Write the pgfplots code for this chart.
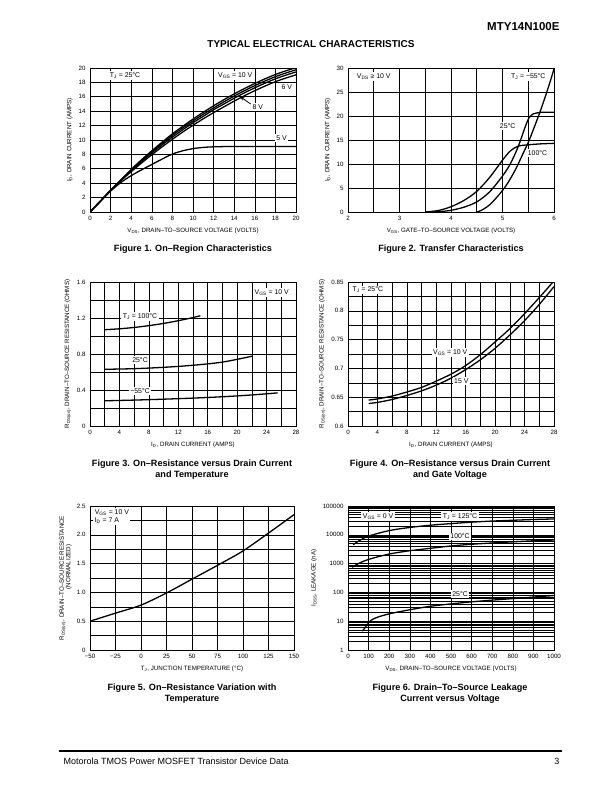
\documentclass[border=0pt]{standalone}
\usepackage{fontspec}
\setmainfont{Liberation Sans}
\usepackage{pgfplots}
\pgfplotsset{compat=1.18}
\newcommand{\tl}{\fontsize{6.2}{7}\selectfont}
\newcommand{\lb}{\fontsize{6.9}{8}\selectfont}
\newcommand{\al}{\fontsize{6.2}{7.4}\selectfont}
\newcommand{\figcap}{\fontsize{9.1}{11}\selectfont\bfseries}
\tikzset{lab/.style={fill=white, inner sep=1.5pt, font=\lb}}
\pgfplotsset{ds/.style={scale only axis, anchor=north west, width=206pt, height=144pt,
  grid=both, major grid style={black, line width=0.6pt}, minor grid style={black, line width=0.6pt},
  axis line style={line width=0.8pt}, tick style={draw=none},
  ticklabel style={font=\tl}, label style={font=\al},
  xticklabel style={yshift=-1pt}, yticklabel style={xshift=-1pt},
  /pgf/number format/assume math mode=true, /pgf/number format/1000 sep={},
  cycle list={{black, solid, mark=none}},
  every axis plot post/.append style={line width=1.3pt, smooth, tension=0.5},
  xlabel style={yshift=-0.5pt}, ylabel style={yshift=-1pt},
  clip=true}}
\begin{document}
\begin{tikzpicture}
\path[use as bounding box, fill=white] (0pt,0pt) rectangle (612pt,-792pt);
\node[anchor=east, font=\fontsize{11.5}{12}\selectfont\bfseries] at (563pt,-27pt) {MTY14N100E};
\node[font=\fontsize{10}{12}\selectfont\bfseries] at (311pt,-44pt) {TYPICAL ELECTRICAL CHARACTERISTICS};

% ---------- Figure 1
\begin{axis}[ds, at={(90pt,-68pt)}, xmin=0, xmax=20, ymin=0, ymax=20,
  xtick={0,2,...,20}, ytick={0,2,...,20},
  xlabel={V\textsubscript{DS}, DRAIN–TO–SOURCE VOLTAGE (VOLTS)},
  ylabel={I\textsubscript{D}, DRAIN CURRENT (AMPS)}]
\addplot coordinates {(0,0) (1,1.5) (2,3.0) (3,4.45) (4,5.9) (5,7.25) (6,8.5) (7,9.7) (8,10.85) (9,11.9) (10,12.9) (11,13.85) (12,14.75) (13,15.6) (14,16.4) (15,17.15) (16,17.85) (17,18.5) (18,19.1) (19,19.6) (20,20.05)};
\addplot coordinates {(0,0) (1,1.5) (2,3.0) (3,4.43) (4,5.85) (5,7.15) (6,8.35) (7,9.52) (8,10.65) (9,11.68) (10,12.65) (11,13.58) (12,14.45) (13,15.3) (14,16.1) (15,16.85) (16,17.55) (17,18.2) (18,18.8) (19,19.3) (20,19.75)};
\addplot coordinates {(0,0) (1,1.5) (2,3.0) (3,4.4) (4,5.75) (5,6.98) (6,8.2) (7,9.32) (8,10.4) (9,11.42) (10,12.4) (11,13.3) (12,14.2) (13,15.0) (14,15.8) (15,16.55) (16,17.25) (17,17.9) (18,18.5) (19,19.0) (20,19.45)};
\addplot coordinates {(0,0) (1,1.5) (2,3.0) (3,4.35) (4,5.6) (5,6.8) (6,7.95) (7,9.05) (8,10.1) (9,11.1) (10,12.05) (11,12.95) (12,13.8) (13,14.6) (14,15.4) (15,16.15) (16,16.85) (17,17.5) (18,18.1) (19,18.6) (20,19.05)};
\addplot coordinates {(0,0) (1,1.45) (2,2.9) (3,4.1) (4,5.05) (5,5.85) (6,6.6) (7,7.35) (8,8.05) (9,8.5) (10,8.8) (11,8.97) (12,9.05) (14,9.1) (20,9.1)};
\node[lab] at (axis cs:3.4,18.9) {T\textsubscript{J} = 25°C};
\node[lab] at (axis cs:14.1,19.0) {V\textsubscript{GS} = 10 V};
\node[lab] at (axis cs:19.1,17.4) {6 V};
\node[lab] at (axis cs:16.3,14.6) {8 V};
\draw[line width=0.8pt, -stealth] (axis cs:15.6,15.0) -- (axis cs:14.6,16.0);
\node[lab] at (axis cs:18.6,10.3) {5 V};
\end{axis}
\node[font=\figcap] at (193pt,-249pt) {Figure 1. On–Region Characteristics};

% ---------- Figure 2
\begin{axis}[ds, at={(348pt,-68pt)}, xmin=2, xmax=6, ymin=0, ymax=30,
  xtick={2,3,4,5,6}, minor xtick={2.5,3.5,4.5,5.5}, ytick={0,5,...,30},
  xlabel={V\textsubscript{GS}, GATE–TO–SOURCE VOLTAGE (VOLTS)},
  ylabel={I\textsubscript{D}, DRAIN CURRENT (AMPS)}]
\addplot coordinates {(4.5,0) (4.6,0.4) (4.75,1.5) (4.9,3.2) (5,4.5) (5.1,6) (5.25,8.8) (5.4,12.2) (5.5,14.5) (5.6,17.2) (5.75,21.5) (5.9,26.3) (6,29.8)};
\addplot coordinates {(3.6,0) (3.8,0.1) (4,0.35) (4.25,1) (4.5,2.1) (4.75,4.2) (5,7.5) (5.15,10) (5.3,13.5) (5.45,18) (5.52,19.7) (5.6,20.45) (5.75,20.75) (6,20.8)};
\addplot coordinates {(3.5,0) (3.75,0.3) (4,1.1) (4.25,2.4) (4.5,4.3) (4.75,7.2) (5,10.8) (5.15,12.7) (5.3,13.7) (5.5,14) (5.75,14.2) (6,14.3)};
\node[lab] at (axis cs:2.5,28.3) {V\textsubscript{DS} ≥ 10 V};
\node[lab] at (axis cs:5.5,28.3) {T\textsubscript{J} = −55°C};
\node[lab] at (axis cs:5.1,17.9) {25°C};
\node[lab] at (axis cs:5.68,12.3) {100°C};
\end{axis}
\node[font=\figcap] at (451pt,-249pt) {Figure 2. Transfer Characteristics};

% ---------- Figure 3
\begin{axis}[ds, at={(90pt,-282pt)}, xmin=0, xmax=28, ymin=0, ymax=1.6,
  xtick={0,4,...,28}, minor xtick={2,6,...,26},
  ytick={0,0.4,0.8,1.2,1.6}, yticklabels={0,0.4,0.8,1.2,1.6}, minor ytick={0.2,0.6,1.0,1.4},
  xlabel={I\textsubscript{D}, DRAIN CURRENT (AMPS)},
  ylabel={R\textsubscript{DS(on)}, DRAIN–TO–SOURCE RESISTANCE (OHMS)}]
\addplot coordinates {(2,1.07) (4,1.08) (6,1.095) (8,1.115) (10,1.14) (12,1.17) (14,1.205) (15,1.225)};
\addplot coordinates {(2,0.63) (6,0.637) (10,0.652) (14,0.675) (18,0.71) (22,0.775)};
\addplot coordinates {(2,0.28) (6,0.288) (10,0.298) (14,0.31) (18,0.325) (22,0.345) (25.5,0.368)};
\node[lab] at (axis cs:24.7,1.48) {V\textsubscript{GS} = 10 V};
\node[lab] at (axis cs:6.8,1.22) {T\textsubscript{J} = 100°C};
\node[lab] at (axis cs:6.8,0.73) {25°C};
\node[lab] at (axis cs:6.8,0.39) {−55°C};
\end{axis}
\node[font=\figcap, align=center] at (192pt,-470pt) {Figure 3. On–Resistance versus Drain Current\\and Temperature};

% ---------- Figure 4
\begin{axis}[ds, at={(348pt,-282pt)}, xmin=0, xmax=28, ymin=0.6, ymax=0.85,
  xtick={0,4,...,28}, minor xtick={2,6,...,26},
  ytick={0.6,0.65,0.7,0.75,0.8,0.85}, yticklabels={0.6,0.65,0.7,0.75,0.8,0.85},
  minor ytick={0.625,0.675,0.725,0.775,0.825},
  xlabel={I\textsubscript{D}, DRAIN CURRENT (AMPS)},
  ylabel={R\textsubscript{DS(on)}, DRAIN–TO–SOURCE RESISTANCE (OHMS)}]
\addplot coordinates {(2.8,0.645) (4,0.647) (6,0.652) (8,0.659) (10,0.667) (12,0.678) (14,0.69) (16,0.705) (18,0.724) (20,0.746) (22,0.769) (24,0.795) (26,0.823) (28,0.852)};
\addplot coordinates {(2.8,0.639) (4,0.641) (6,0.646) (8,0.653) (10,0.661) (12,0.671) (14,0.683) (16,0.698) (18,0.715) (20,0.735) (22,0.758) (24,0.783) (26,0.811) (28,0.842)};
\node[lab] at (axis cs:2.7,0.836) {T\textsubscript{J} = 25°C};
\node[lab] at (axis cs:13.9,0.727) {V\textsubscript{GS} = 10 V};
\node[lab] at (axis cs:15.4,0.678) {15 V};
\end{axis}
\node[font=\figcap, align=center] at (450pt,-470pt) {Figure 4. On–Resistance versus Drain Current\\and Gate Voltage};

% ---------- Figure 5
\begin{axis}[ds, at={(90pt,-506pt)}, width=204pt, xmin=-50, xmax=150, ymin=0, ymax=2.5,
  xtick={-50,-25,...,150}, xticklabels={−50,−25,0,25,50,75,100,125,150},
  ytick={0,0.5,1,1.5,2,2.5}, yticklabels={0,0.5,1.0,1.5,2.0,2.5},
  minor ytick={0.25,0.75,1.25,1.75,2.25},
  xlabel={T\textsubscript{J}, JUNCTION TEMPERATURE (°C)},
  ylabel={R\textsubscript{DS(on)}, \begin{tabular}[t]{@{}c@{}}DRAIN–TO–SOURCE RESISTANCE\\[-1pt](NORMALIZED)\end{tabular}},
  ylabel style={yshift=-1.5pt}]
\addplot coordinates {(-50,0.5) (-25,0.64) (0,0.78) (25,0.99) (50,1.23) (75,1.47) (100,1.72) (125,2.03) (150,2.35)};
\node[lab, anchor=north west, align=left] at (axis cs:-47,2.47) {V\textsubscript{GS} = 10 V\\I\textsubscript{D} = 7 A};
\end{axis}
\node[font=\figcap, align=center] at (192pt,-694pt) {Figure 5. On–Resistance Variation with\\Temperature};

% ---------- Figure 6
\begin{axis}[ds, at={(348pt,-506pt)}, ymode=log, xmin=0, xmax=1000, ymin=1, ymax=100000,
  xtick={0,100,...,1000}, xticklabels={0,100,200,300,400,500,600,700,800,900,1000},
  ytick={1,10,100,1000,10000,100000}, yticklabels={1,10,100,1000,10000,100000},
  xlabel={V\textsubscript{DS}, DRAIN–TO–SOURCE VOLTAGE (VOLTS)},
  ylabel={I\textsubscript{DSS}, LEAKAGE (nA)}]
\addplot coordinates {(25,4500) (50,6000) (100,9000) (200,14000) (300,18000) (400,21500) (500,24500) (600,27500) (700,30000) (800,32000) (900,34000) (1000,35500)};
\addplot coordinates {(20,750) (50,1000) (100,1400) (200,2150) (300,2800) (400,3400) (500,4100) (600,4700) (700,5200) (800,5700) (900,6200) (1000,6600)};
\addplot coordinates {(70,4.5) (90,7) (110,10.5) (140,13.5) (200,18) (300,25) (400,33) (500,40) (600,47) (700,54) (800,61) (900,69) (1000,78)};
\node[lab] at (axis cs:146,42700) {V\textsubscript{GS} = 0 V};
\node[lab] at (axis cs:544,42700) {T\textsubscript{J} = 125°C};
\node[lab] at (axis cs:544,8700) {100°C};
\node[lab] at (axis cs:544,89) {25°C};
\end{axis}
\node[font=\figcap, align=center] at (450pt,-694pt) {Figure 6. Drain–To–Source Leakage\\Current versus Voltage};

\draw[line width=2pt] (59pt,-751pt) -- (562pt,-751pt);
\node[anchor=west, font=\fontsize{9}{10}\selectfont] at (60pt,-761pt) {Motorola TMOS Power MOSFET Transistor Device Data};
\node[anchor=east, font=\fontsize{9}{10}\selectfont] at (563pt,-761pt) {3};
\end{tikzpicture}
\end{document}
